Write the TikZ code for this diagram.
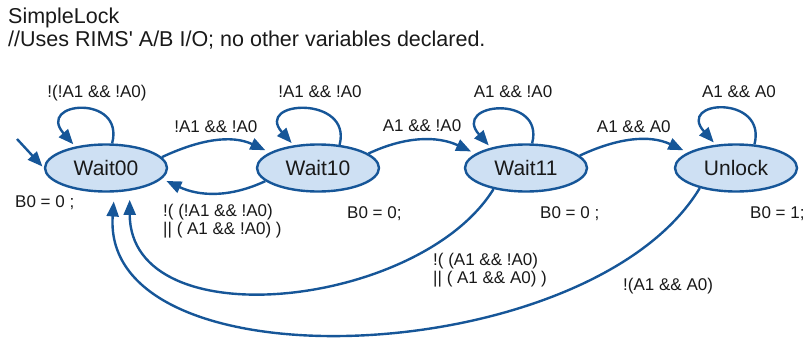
\documentclass[tikz,border=0pt]{standalone}
\usepackage{fontspec}
\setmainfont{Liberation Sans}
\usetikzlibrary{shapes.geometric,arrows.meta}
\definecolor{smblue}{RGB}{22,86,152}
\definecolor{smfill}{RGB}{206,224,243}
\definecolor{smtext}{RGB}{25,25,25}

\begin{document}
\begin{tikzpicture}[x=1pt,y=1pt,
  state/.style={ellipse,draw=smblue,fill=smfill,line width=2.4pt,minimum width=122pt,minimum height=47pt,inner sep=0pt,text=smtext,font=\fontsize{21}{24}\selectfont},
  trans/.style={draw=smblue,line width=2.4pt,-{Triangle[length=15pt,width=12pt]},shorten >=5pt},
  lbl/.style={text=smtext,font=\fontsize{17}{18.5}\selectfont,inner sep=2pt}]
\useasboundingbox (0,0) rectangle (810,-337);

\node[lbl,anchor=base west,font=\fontsize{21.5}{24}\selectfont] (title) at (6,-24) {SimpleLock};
\node[lbl,anchor=base west,font=\fontsize{21.5}{24}\selectfont] (comment) at (6,-47) {//Uses RIMS\textquotesingle{} A/B I/O; no other variables declared.};

\node[state] (w00) at (106,-168) {Wait00};
\node[state] (w10) at (318,-168) {Wait10};
\node[state] (w11) at (526,-168) {Wait11};
\node[state] (un) at (736,-168) {Unlock};

\coordinate (init) at (17,-139);
\draw[trans,shorten >=2pt] (init) -- (w00.west);

\foreach \n/\a/\b in {w00/76/145, w10/47/137, w11/76/150, un/52/131} {
  \draw[trans,shorten >=3pt] (\n.\a) .. controls +(13,50) and +(-40,45) .. (\n.\b);
}
\node[lbl,anchor=base] (l00) at (97,-97) {!(!A1 \&\& !A0)};
\node[lbl,anchor=base] (l10) at (320,-97) {!A1 \&\& !A0};
\node[lbl,anchor=base] (l11) at (513,-97) {A1 \&\& !A0};
\node[lbl,anchor=base] (lun) at (739,-97) {A1 \&\& A0};

\draw[trans] (w00.11) to[out=25,in=155] node[lbl,midway,above=5pt] (e0010) {!A1 \&\& !A0} (w10.162);
\draw[trans] (w10.16) to[out=25,in=155] node[lbl,midway,above=5pt] (e1011) {A1 \&\& !A0} (w11.164);
\draw[trans] (w11.13) to[out=25,in=155] node[lbl,midway,above=5pt] (e11un) {A1 \&\& A0} (un.162);
\draw[trans] (w10.194) to[out=205,in=335] (w00.349);
\draw[trans,shorten >=9pt] (w11.213) .. controls (420,-308) and (130,-340) .. (w00.316);
\draw[trans,shorten >=9pt] (un.209) .. controls (590,-370) and (100,-390) .. (w00.289);

\node[lbl,align=left,anchor=west] (e1000) at (161,-221) {!( (!A1 \&\& !A0)\\|| ( A1 \&\& !A0) )};
\node[lbl,align=left,anchor=west] (e1100) at (431,-270) {!( (A1 \&\& !A0)\\|| ( A1 \&\& A0) )};
\node[lbl,anchor=base west] (eun00) at (621,-290) {!(A1 \&\& A0)};

% actions
\node[lbl,anchor=base west] (a00) at (13,-207) {B0 = 0 ;};
\node[lbl,anchor=base west] (a10) at (345,-218) {B0 = 0;};
\node[lbl,anchor=base west] (a11) at (538,-218) {B0 = 0 ;};
\node[lbl,anchor=base west] (aun) at (748,-218) {B0 = 1;};
\end{tikzpicture}
\end{document}
